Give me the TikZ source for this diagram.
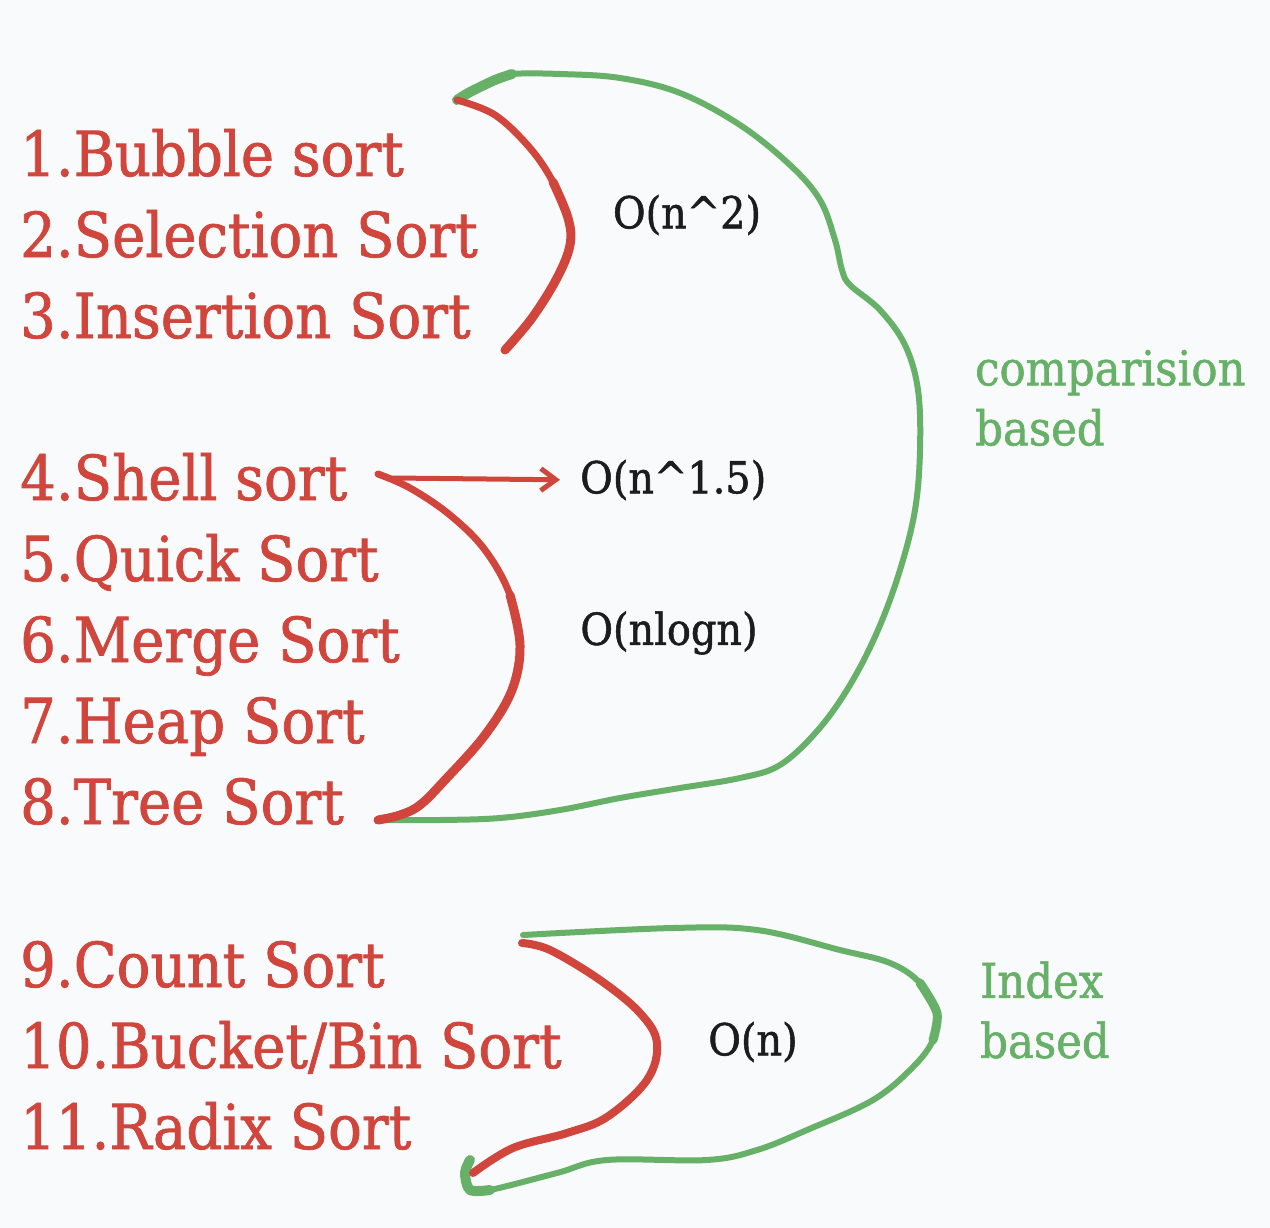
\documentclass[tikz,border=0pt]{standalone}
\usepackage{fontspec}
\setmainfont{DejaVu Serif}[FakeStretch=0.905,FakeBold=1.2]
\usetikzlibrary{arrows.meta}

\definecolor{rojoAlgo}{HTML}{D0453C}
\definecolor{verdeClase}{HTML}{67B067}
\definecolor{negroCota}{HTML}{1C1C1C}
\definecolor{fondo}{HTML}{F8FAFC}

\tikzset{
algo/.style={anchor=base west,text=rojoAlgo,inner sep=0pt,font=\fontsize{62}{62}\selectfont},
cota/.style={text=negroCota,inner sep=0pt,font=\fontsize{44}{44}\selectfont},
clase/.style={anchor=west,text=verdeClase,inner sep=0pt,align=left,font=\fontsize{48}{60}\selectfont},
trazoRojo/.style={draw=rojoAlgo,line width=9pt,line cap=round,line join=round},
trazoVerde/.style={draw=verdeClase,line width=6pt,line cap=round,line join=round},
flecha/.style={draw=rojoAlgo,line width=5pt,line cap=round,-{Straight Barb[length=15pt,width=22pt]}}
}

\newcommand{\coordLlaves}{
\coordinate (r1a) at (457,100);
\coordinate (r1b) at (505,350);
\coordinate (r2a) at (378,474);
\coordinate (r2b) at (378,820);
\coordinate (r3a) at (522,943);
\coordinate (r3b) at (473,1173);
\coordinate (g1a) at (457,100);
\coordinate (g1b) at (380,820);
\coordinate (g2a) at (523,935);
\coordinate (g2b) at (470,1160);
\coordinate (inicioFlecha) at (393,478);
}

\begin{document}
\begin{tikzpicture}[x=1pt,y=-1pt]
    \useasboundingbox[fill=fondo] (0,0) rectangle (1270,1228);
    \coordLlaves

    % listas
    \node[algo] (bubble) at (20,176) {1.Bubble sort};
    \node[algo] (selection) at (20,257) {2.Selection Sort};
    \node[algo] (insertion) at (20,338) {3.Insertion Sort};
    \node[algo] (shell) at (20,500) {4.Shell sort};
    \node[algo] (quick) at (20,581) {5.Quick Sort};
    \node[algo] (merge) at (20,662) {6.Merge Sort};
    \node[algo] (heap) at (20,743) {7.Heap Sort};
    \node[algo] (tree) at (20,824) {8.Tree Sort};
    \node[algo] (count) at (20,987) {9.Count Sort};
    \node[algo] (bucket) at (20,1068) {10.Bucket/Bin Sort};
    \node[algo] (radix) at (20,1149) {11.Radix Sort};

    % cotas
    \node[cota] (ocuad) at (687,215) {O(n\textasciicircum2)};
    \node[cota,anchor=west] (omedio) at (580,480) {O(n\textasciicircum1.5)};
    \node[cota] (olog) at (669,633) {O(nlogn)};
    \node[cota] (olin) at (753,1042) {O(n)};

    \node[clase] (comparacion) at (975,398) {comparision\\based};
    \node[clase] (indice) at (980,1010) {Index\\based};

    % llaves verdes
    \draw[trazoVerde] plot[smooth,tension=0.6] coordinates {(g1a) (470,92) (495,80) (512,74)
        (560,74) (620,78) (680,93) (740,125) (790,165) (820,200) (835,240) (842,270)
        (850,285) (880,310) (905,345) (918,390) (920,450) (915,510) (900,570) (878,630)
        (850,685) (818,730) (780,765) (740,778) (680,788) (620,798) (560,810) (500,818)
        (440,820) (g1b)};
    \draw[trazoVerde,line width=10pt] plot[smooth] coordinates {(g1a) (470,92) (495,80) (512,74)};
    \draw[trazoVerde] plot[smooth,tension=0.6] coordinates {(g2a) (673,928) (757,930)
        (840,950) (890,963) (920,983) (937,1013) (933,1040) (913,1067) (873,1100)
        (807,1130) (757,1150) (707,1160) (607,1160) (557,1173) (490,1190) (470,1190)
        (465,1173) (g2b)};
    \draw[trazoVerde,line width=9pt] plot[smooth] coordinates {(920,983) (937,1013) (933,1040)};
    \draw[trazoVerde,line width=10pt] plot[smooth] coordinates {(490,1190) (470,1190) (465,1173) (g2b)};

    % llaves rojas
    \draw[trazoRojo,line width=7pt] plot[smooth,tension=0.6] coordinates {(r1a) (495,115) (530,148)
        (553,182) (568,218)};
    \draw[trazoRojo] plot[smooth,tension=0.6] coordinates {(553,182) (568,218) (570,245)
        (557,278) (532,318) (r1b)};
    \draw[trazoRojo,line width=7pt] plot[smooth,tension=0.6] coordinates {(r2a) (410,488) (450,515)
        (485,550) (510,595) (520,645) (512,690)};
    \draw[trazoRojo] plot[smooth,tension=0.6] coordinates {(510,595) (520,645) (512,690)
        (485,735) (445,780) (420,805) (400,815) (r2b)};
    \draw[trazoRojo,line width=8pt] plot[smooth,tension=0.6] coordinates {(r3a) (550,950) (600,980)
        (640,1013) (657,1043) (647,1080) (607,1117) (567,1133) (513,1148) (r3b)};

    \draw[flecha,shorten >=20pt] (inicioFlecha) -- (omedio.west);
\end{tikzpicture}
\end{document}
